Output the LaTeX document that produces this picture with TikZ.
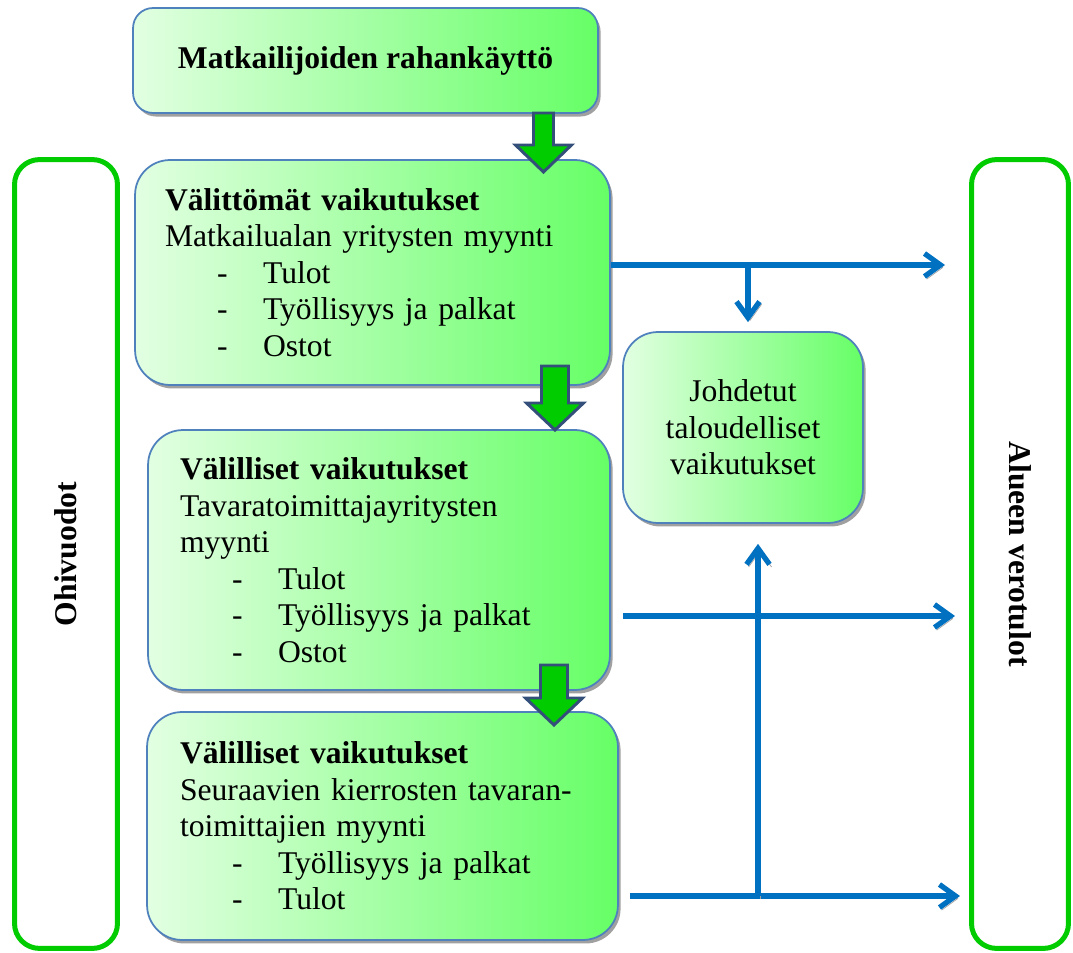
\documentclass[tikz,border=0pt]{standalone}
\usepackage{fontspec}
\setmainfont{Liberation Serif}
\usetikzlibrary{arrows.meta,shadows,calc}

\definecolor{reunansininen}{RGB}{79,129,189}
\definecolor{vaaleavihrea}{RGB}{226,255,226}
\definecolor{kirkasvihrea}{RGB}{102,255,102}
\definecolor{kehysvihrea}{RGB}{0,204,0}
\definecolor{nuolireuna}{RGB}{52,80,122}
\definecolor{viivasininen}{RGB}{0,112,192}
\definecolor{varjo}{RGB}{160,160,160}

\newcommand{\kohta}[1]{\hspace*{1.04cm}\makebox[0.92cm][l]{-}#1}

\begin{document}
\begin{tikzpicture}
[
	x=0.02cm, y=-0.02cm,
	font=\fontsize{18}{20.8}\selectfont,
% Vaikutuslaatikko
	laatikko/.style={
		draw=reunansininen,
		line width=1pt,
		left color=vaaleavihrea,
		right color=kirkasvihrea,
		rounded corners=0.7cm,
		drop shadow={shadow xshift=1.5pt, shadow yshift=-2pt,
			fill=varjo, opacity=1},
		align=left},
% Reunakehys
	kehys/.style={
		draw=kehysvihrea,
		line width=0.1cm,
		rounded corners=0.5cm,
		font=\fontsize{18}{20.8}\selectfont\bfseries},
% Sininen nuoli
	sininuoli/.style={
		draw=viivasininen,
		line width=3pt,
		-{Straight Barb[length=3.2mm,width=4.6mm]},
		preaction={draw=varjo,
			transform canvas={xshift=1.2pt,yshift=-1.5pt}}},
% Vihrea blokkinuoli
	blokkinuoli/.style={
		fill=kehysvihrea,
		draw=nuolireuna,
		line width=1.7pt,
		line join=miter},
]

\useasboundingbox (0,0) rectangle (1073,953);

% Reunakehykset
\node[kehys, rotate=90,
	minimum width=15.78cm, minimum height=2.06cm] (ohivuodot) at (66,554) {Ohivuodot};

\node[kehys, rotate=-90,
	minimum width=15.78cm, minimum height=1.94cm] (alue) at (1020,554) {Alueen verotulot};

% Vaikutuslaatikot
\node[laatikko, rounded corners=0.4cm,
	minimum width=9.3cm, minimum height=2.1cm,
	align=center,
	font=\fontsize{18}{20.8}\selectfont\bfseries] (rahankaytto) at (365.5,60.5)
	{Matkailijoiden rahankäyttö};

\node[laatikko, text width=8.3cm, inner xsep=0.6cm,
	minimum height=4.5cm] (valittomat) at (372.5,272.5)
	{\textbf{Välittömät vaikutukset}\\
	Matkailualan yritysten myynti\\
	\kohta{Tulot}\\
	\kohta{Työllisyys ja palkat}\\
	\kohta{Ostot}};

\node[laatikko, text width=7.96cm, inner xsep=0.64cm,
	minimum height=5.2cm] (valilliset) at (379,560)
	{\textbf{Välilliset vaikutukset}\\
	Tavaratoimittajayritysten\\
	myynti\\
	\kohta{Tulot}\\
	\kohta{Työllisyys ja palkat}\\
	\kohta{Ostot}};

\node[laatikko, text width=8.1cm, inner xsep=0.66cm,
	minimum height=4.56cm] (kierrokset) at (382.5,826)
	{\textbf{Välilliset vaikutukset}\\
	Seuraavien kierrosten tavaran-\\
	toimittajien myynti\\
	\kohta{Työllisyys ja palkat}\\
	\kohta{Tulot}};

\node[laatikko, align=center,
	minimum width=4.8cm, minimum height=3.82cm] (johdetut) at (743,427.5)
	{Johdetut\\ taloudelliset\\ vaikutukset};

% Vihreat nuolet
\foreach \x/\a/\b/\c/\s/\h in {543.5/113/145/172/10/28,
	555/366/403/430/13.5/28.5, 554/665/698/725/13.5/28.5}
	\draw[blokkinuoli] (\x-\s,\a) -- (\x-\s,\b) -- (\x-\h,\b) -- (\x,\c)
		-- (\x+\h,\b) -- (\x+\s,\b) -- (\x+\s,\a) -- cycle;

% Siniset nuolet
\coordinate (k1) at (945,265);
\coordinate (h1) at (748,265);
\coordinate (k2) at (955,616);
\coordinate (k3) at (960,896);
\coordinate (h3) at (758,896);

\draw[sininuoli] (valittomat.east |- k1) -- (k1);
\draw[sininuoli, shorten >=0.18cm] (h1) -- (h1 |- johdetut.north);
\draw[sininuoli] ($(valilliset.east |- k2)+(12,0)$) -- (k2);
\draw[sininuoli] ($(kierrokset.east |- k3)+(11,0)$) -- (k3);
\draw[sininuoli, shorten >=0.4cm] (h3) -- (h3 |- johdetut.south);

\end{tikzpicture}
\end{document}
